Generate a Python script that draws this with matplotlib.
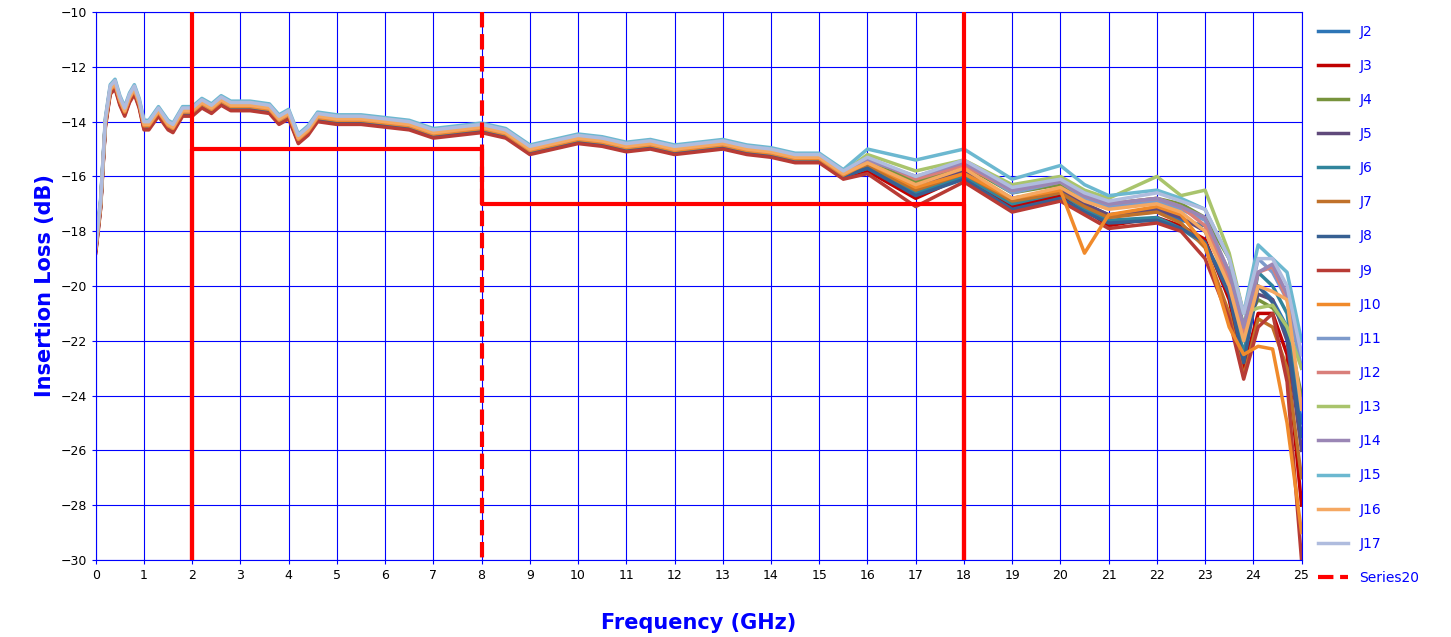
import numpy as np
import matplotlib
matplotlib.use('Agg')
import matplotlib.pyplot as plt

# shared low/mid band trace (all ports nearly overlap here)
head_f = [0, 0.1, 0.2, 0.3, 0.4, 0.5, 0.6, 0.7, 0.8, 0.9, 1.0, 1.1, 1.3, 1.5, 1.6, 1.8, 2.0, 2.2, 2.4,
          2.6, 2.8, 3.2, 3.6, 3.8, 4.0, 4.2, 4.4, 4.6, 5.0, 5.5, 6.0, 6.5, 7.0, 7.5, 8.0, 8.5, 9.0,
          9.5, 10.0, 10.5, 11.0, 11.5, 12.0, 12.5, 13.0, 13.5, 14.0, 14.5, 15.0, 15.5]
head_db = [-18.6, -17.0, -14.0, -12.8, -12.6, -13.2, -13.6, -13.1, -12.8, -13.3, -14.1, -14.1, -13.6,
           -14.1, -14.2, -13.6, -13.6, -13.3, -13.5, -13.2, -13.4, -13.4, -13.5, -13.9, -13.7, -14.6,
           -14.3, -13.8, -13.9, -13.9, -14.0, -14.1, -14.4, -14.3, -14.2, -14.4, -15.0, -14.8, -14.6,
           -14.7, -14.9, -14.8, -15.0, -14.9, -14.8, -15.0, -15.1, -15.3, -15.3, -15.9]

# high band, per port
tail_f = [16, 17, 18, 19, 20, 20.5, 21, 22, 22.5, 23, 23.5, 23.8, 24.1, 24.4, 24.7, 25]
names = ['J2', 'J3', 'J4', 'J5', 'J6', 'J7', 'J8', 'J9', 'J10', 'J11', 'J12', 'J13', 'J14', 'J15', 'J16', 'J17']
head_shift = [0.0, -0.15, 0.0, -0.05, -0.1, -0.05, -0.1, -0.2, -0.05, 0.05, 0.0, 0.05, 0.05, 0.15, 0.0, 0.1]
tails = [
    [-15.6, -16.3, -15.8, -16.8, -16.5, -17.0, -17.4, -17.3, -17.6, -17.8, -19.5, -21.5, -20.0, -20.5, -21.5, -25],
    [-15.8, -16.8, -16.0, -17.1, -16.7, -17.2, -17.8, -17.5, -17.8, -18.3, -20.5, -23.0, -21.0, -21.0, -22.5, -28],
    [-15.4, -16.2, -15.6, -16.6, -16.3, -16.8, -17.0, -16.8, -17.0, -17.5, -19.0, -21.5, -20.5, -20.8, -21.5, -24],
    [-15.6, -16.4, -15.8, -16.9, -16.5, -17.0, -17.4, -17.2, -17.5, -18.0, -19.8, -22.0, -20.3, -20.5, -22.0, -26],
    [-15.7, -16.6, -16.0, -17.0, -16.6, -17.2, -17.6, -17.5, -17.9, -18.5, -20.0, -22.5, -19.5, -20.0, -21.0, -24.5],
    [-15.6, -16.5, -15.9, -16.9, -16.6, -17.1, -17.5, -17.3, -17.7, -18.6, -21.0, -23.3, -21.2, -21.5, -23.0, -27],
    [-15.7, -16.7, -16.1, -17.2, -16.8, -17.3, -17.7, -17.6, -17.9, -18.4, -20.3, -22.8, -20.0, -20.6, -21.8, -25.5],
    [-15.9, -17.1, -16.2, -17.3, -16.9, -17.4, -17.9, -17.7, -18.0, -19.0, -21.2, -23.4, -21.5, -21.0, -23.5, -30],
    [-15.5, -16.4, -15.9, -16.8, -16.5, -18.8, -17.4, -17.1, -17.4, -18.5, -21.5, -22.5, -22.2, -22.3, -25.0, -29],
    [-15.4, -16.0, -15.5, -16.6, -16.2, -16.8, -17.1, -16.9, -17.2, -17.6, -19.5, -21.5, -19.0, -19.5, -20.5, -23],
    [-15.3, -16.1, -15.6, -16.5, -16.2, -16.7, -17.0, -16.8, -17.1, -17.8, -19.8, -21.8, -19.5, -19.3, -20.5, -22],
    [-15.2, -15.8, -15.4, -16.3, -16.0, -16.5, -16.8, -16.0, -16.7, -16.5, -18.8, -21.0, -20.8, -20.7, -21.5, -23],
    [-15.4, -16.0, -15.5, -16.5, -16.2, -16.7, -17.0, -16.8, -17.1, -17.5, -19.5, -21.5, -19.5, -19.2, -20.3, -22.5],
    [-15.0, -15.4, -15.0, -16.1, -15.6, -16.3, -16.7, -16.5, -16.8, -17.2, -19.0, -21.0, -18.5, -19.0, -19.5, -22],
    [-15.5, -16.3, -15.7, -16.8, -16.4, -16.9, -17.2, -17.0, -17.3, -18.0, -20.0, -22.0, -20.0, -20.2, -20.5, -24.5],
    [-15.3, -16.0, -15.4, -16.4, -16.1, -16.6, -16.9, -16.6, -16.9, -17.2, -19.0, -21.0, -19.0, -19.0, -20.0, -22.5],
]
colors = ['#2E75B6', '#C00000', '#77933C', '#604A7B', '#31859C', '#C0712A', '#376092', '#B83B35',
          '#F08A2B', '#7D9ACB', '#D97F7A', '#A9C46C', '#9A86B5', '#6CB8D0', '#F5A862', '#AFBCDE']

# limit mask
mask_f = [2, 2, 8, 8, 18, 18]
mask_db = [-30, -15, -15, -17, -17, -30]
mask_vlines = [2, 18]

fig = plt.figure(figsize=(14.51, 6.37), dpi=100)
ax = fig.add_axes([0.066, 0.121, 0.831, 0.86])

for name, sh, tail, c in zip(names, head_shift, tails, colors):
    f = head_f + tail_f
    y = [v + sh for v in head_db] + tail
    ax.plot(f, y, color=c, lw=2.5, label=name)

ax.plot(mask_f, mask_db, color='red', lw=3, zorder=5)
for xv in mask_vlines:
    ax.plot([xv, xv], [-10, -30], color='red', lw=3, zorder=5)
ax.plot([8, 8], [-10, -30], color='red', lw=3, ls='--', zorder=5, label='Series20')

ax.set_xlim(0, 25)
ax.set_ylim(-30, -10)
ax.set_xticks(np.arange(0, 26, 1))
ax.set_yticks(np.arange(-30, -9, 2))
ax.grid(True, color='#0000FF', lw=0.8)
ax.set_axisbelow(True)
for s in ax.spines.values():
    s.set_color('#0000FF')
ax.tick_params(colors='black', labelsize=9, length=3)
ax.tick_params(axis='both', color='#0000FF')
ax.set_xlabel('Frequency (GHz)', color='#0000FF', fontsize=15, fontweight='bold', labelpad=22)
ax.set_ylabel('Insertion Loss (dB)', color='#0000FF', fontsize=15, fontweight='bold')

leg = ax.legend(loc='upper left', bbox_to_anchor=(1.003, 1.0), frameon=False,
                fontsize=10, handlelength=2.2, labelspacing=1.45)
for t in leg.get_texts():
    t.set_color('#0000FF')

fig.savefig('out.png', dpi=100)
